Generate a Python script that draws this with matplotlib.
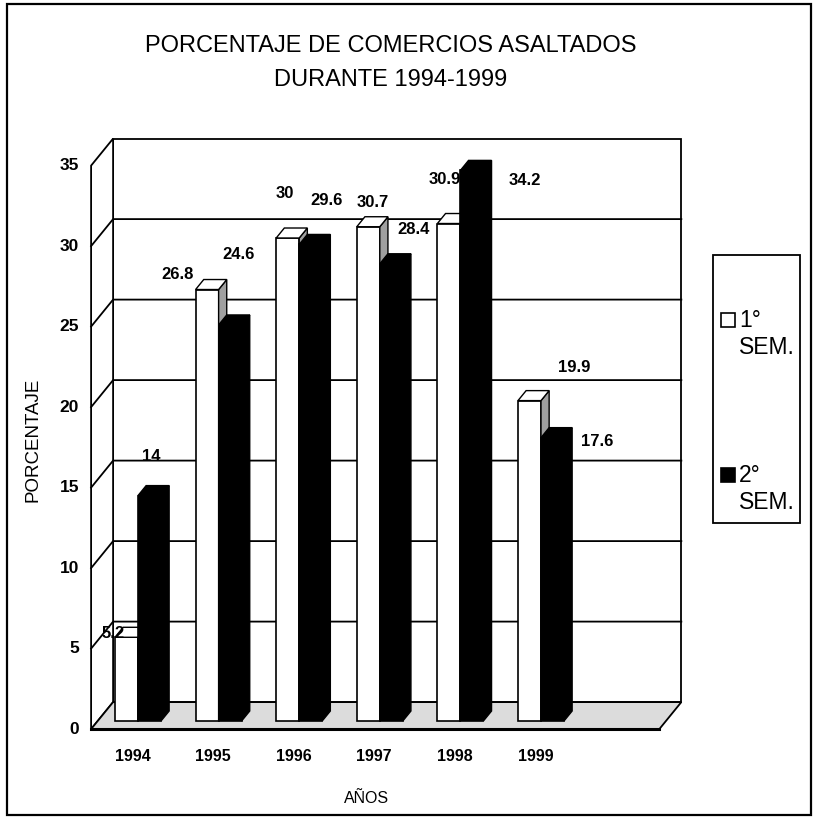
import numpy as np
import matplotlib.pyplot as plt
from matplotlib.patches import Polygon, Rectangle

plt.rcParams['font.family'] = ['Liberation Sans', 'DejaVu Sans']
plt.rcParams['hatch.color'] = '#6a6a6a'

# data
years = ['1994', '1995', '1996', '1997', '1998', '1999']
sem1 = [5.2, 26.8, 30, 30.7, 30.9, 19.9]
sem2 = [14, 24.6, 29.6, 28.4, 34.2, 17.6]
y_ticks = [0, 5, 10, 15, 20, 25, 30, 35]

# where the value labels sit, in pixels from the top of each bar
off1 = [(-13, 4), (-30, 15), (-3, 45), (4, 24), (-4, 44), (45, 33)]
off2 = [(2, 39), (8, 70), (16, 44), (22, 34), (53, -10), (45, -4)]

W, H = 815, 822
X0, SX = 138, 80.6      # pixel x of first group, pixels per group
Y0, SY = 721, 16.1      # pixel y of bar base, pixels per percent
DX, DY = 22 / SX, 27 / SY   # full depth of the box in data units
ZB = 0.3                # depth of bar front faces
BDZ = 0.37              # bar depth
BW = 23 / SX            # bar width
XL, XR = -0.5, 6.55
YMAX = 35


def proj(x, y, z):
    return (x + (z - ZB) * DX, y + (z - ZB) * DY)


fig = plt.figure(figsize=(W / 100, H / 100), dpi=100)
ax = fig.add_axes([0, 0, 1, 1])
ax.set_xlim(-X0 / SX, (W - X0) / SX)
ax.set_ylim((Y0 - H) / SY, Y0 / SY)
ax.axis('off')

# walls
back = [proj(XL, 0, 1), proj(XR, 0, 1), proj(XR, YMAX, 1), proj(XL, YMAX, 1)]
ax.add_patch(Polygon(back, closed=True, fc='white', ec='black', lw=1.3, zorder=1))
left = [proj(XL, 0, 0), proj(XL, 0, 1), proj(XL, YMAX, 1), proj(XL, YMAX, 0)]
ax.add_patch(Polygon(left, closed=True, fc='white', ec='black', lw=1.3, zorder=1))
for v in y_ticks[1:-1]:
    pts = np.array([proj(XL, v, 0), proj(XL, v, 1), proj(XR, v, 1)])
    ax.plot(pts[:, 0], pts[:, 1], color='black', lw=1.3, zorder=1.5)

# floor
floor = [proj(XL, 0, 0), proj(XR, 0, 0), proj(XR, 0, 1), proj(XL, 0, 1)]
ax.add_patch(Polygon(floor, closed=True, fc='#dcdcdc', ec='none',
                     hatch='...', zorder=2))
ax.add_patch(Polygon(floor, closed=True, fill=False, ec='black', lw=1.3, zorder=2))
fe = np.array([proj(XL, 0, 0), proj(XR, 0, 0)])
ax.plot(fe[:, 0], fe[:, 1], color='black', lw=2.2, zorder=2.1)

x = np.arange(len(years))
bdx, bdy = BDZ * DX, BDZ * DY

b1 = ax.bar(x - BW, sem1, BW, align='edge', color='white', edgecolor='black',
            lw=1.2, zorder=3)
b2 = ax.bar(x, sem2, BW, align='edge', color='black', edgecolor='black',
            lw=1.2, zorder=5)


def faces(bars, top_fc, side_fc, z, hatch=None):
    for r in bars:
        x0, h, w = r.get_x(), r.get_height(), r.get_width()
        top = [(x0, h), (x0 + w, h), (x0 + w + bdx, h + bdy), (x0 + bdx, h + bdy)]
        side = [(x0 + w, 0), (x0 + w, h), (x0 + w + bdx, h + bdy), (x0 + w + bdx, bdy)]
        ax.add_patch(Polygon(side, closed=True, fc=side_fc, ec='none',
                             hatch=hatch, zorder=z))
        ax.add_patch(Polygon(side, closed=True, fill=False, ec='black', lw=1.0,
                             zorder=z))
        ax.add_patch(Polygon(top, closed=True, fc=top_fc, ec='black', lw=1.0,
                             zorder=z))


faces(b1, 'white', '#a0a0a0', 4, hatch='....')
faces(b2, 'black', 'black', 6)

# value labels
for r, v, o in zip(b1, sem1, off1):
    ax.annotate(f'{v:g}', (r.get_x() + r.get_width() / 2, v), xytext=o,
                textcoords='offset pixels', ha='center', va='center',
                fontsize=12, fontweight='bold', zorder=8)
for r, v, o in zip(b2, sem2, off2):
    ax.annotate(f'{v:g}', (r.get_x() + r.get_width() / 2, v), xytext=o,
                textcoords='offset pixels', ha='center', va='center',
                fontsize=12, fontweight='bold', zorder=8)

# y tick labels on the front-left edge
for v in y_ticks:
    ax.annotate(str(v), proj(XL, v, 0), xytext=(-12, 0), textcoords='offset pixels',
                ha='right', va='center', fontsize=12.5, fontweight='bold')

# category labels
for i, yr in enumerate(years):
    ax.annotate(yr, proj(i, 0, 0), xytext=(1, -27), textcoords='offset pixels',
                ha='center', va='center', fontsize=11.5, fontweight='bold')

# overlay in pixel coordinates for titles, legend and frame
ov = fig.add_axes([0, 0, 1, 1], zorder=10)
ov.set_xlim(0, W)
ov.set_ylim(H, 0)
ov.axis('off')
ov.patch.set_alpha(0)

ov.add_patch(Rectangle((7, 4), 804, 811, fill=False, ec='black', lw=1.6))
ov.text(391, 46, 'PORCENTAJE DE COMERCIOS ASALTADOS', ha='center', va='center',
        fontsize=17)
ov.text(391, 80, 'DURANTE 1994-1999', ha='center', va='center', fontsize=17)
ov.text(33, 440, 'PORCENTAJE', rotation=90, ha='center', va='center', fontsize=13.5)
ov.text(367, 798, 'AÑOS', ha='center', va='center', fontsize=11.5)

# legend
ov.add_patch(Rectangle((713, 255), 87, 268, fill=False, ec='black', lw=1.3))
ov.add_patch(Rectangle((721, 313), 14, 14, fc='white', ec='black', lw=1.2))
ov.add_patch(Rectangle((721, 468), 14, 14, fc='black', ec='black', lw=1.2))
ov.text(739, 320, '1°', ha='left', va='center', fontsize=16.5)
ov.text(739, 347, 'SEM.', ha='left', va='center', fontsize=16.5)
ov.text(739, 475, '2°', ha='left', va='center', fontsize=16.5)
ov.text(739, 502, 'SEM.', ha='left', va='center', fontsize=16.5)

fig.savefig('out.png', dpi=100)
